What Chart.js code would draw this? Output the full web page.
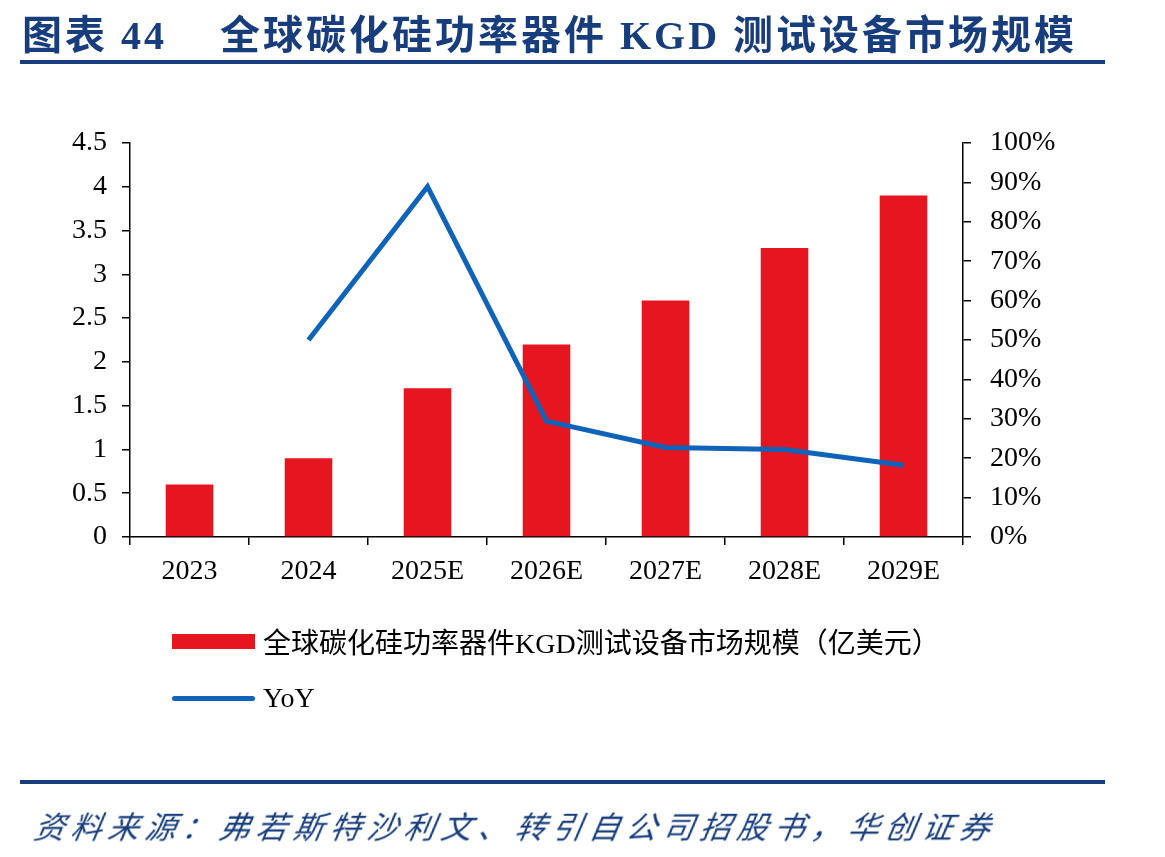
<!DOCTYPE html>
<html>
<head>
<meta charset="utf-8">
<script src="https://cdn.jsdelivr.net/npm/chart.js@4"></script>
<style>
    body { margin: 0; background: #fff; }
    #page { position: relative; width: 1165px; height: 857px; overflow: hidden; }
    #chart { position: absolute; left: 0; top: 0; }
    .title { position: absolute; top: 3px; font-family: "Liberation Serif", "Noto Sans CJK SC", serif; font-weight: bold;
        font-size: 40px; color: #173d7c; white-space: nowrap; letter-spacing: 3px; }
    .rule { position: absolute; left: 20px; width: 1085px; height: 4px; background: #173d7c; }
    .source { position: absolute; left: 35px; top: 802px; font-family: "Noto Sans CJK SC", sans-serif;
        font-size: 31px; color: #173d7c; font-style: italic; transform: skewX(-10deg); letter-spacing: 6px; white-space: nowrap; }
    .legend-item { position: absolute; left: 172px; height: 40px; display: flex; align-items: center; }
    .legend-text { position: absolute; left: 91px; white-space: nowrap; font-size: 28px; color: #000;
        font-family: "Liberation Serif", "Noto Sans CJK SC", serif; }
</style>
</head>
<body>
<div id="page">
    <canvas id="chart" width="1165" height="857"></canvas>
    <div class="title" style="left:22px">图表 44</div>
    <div class="title" style="left:220px">全球碳化硅功率器件 KGD 测试设备市场规模</div>
    <div class="rule" style="top:60px"></div>
    <div id="legend"></div>
    <div class="rule" style="top:780px"></div>
    <div class="source">资料来源：弗若斯特沙利文、转引自公司招股书，华创证券</div>
</div>
<script>
const categories = ["2023", "2024", "2025E", "2026E", "2027E", "2028E", "2029E"];
const marketSize = [0.6, 0.9, 1.7, 2.2, 2.7, 3.3, 3.9];
const yoy = [null, 50, 88.9, 29.4, 22.7, 22.2, 18.2];
const seriesNames = ["全球碳化硅功率器件KGD测试设备市场规模（亿美元）", "YoY"];

const barColor = "#e5161f";
const lineColor = "#0f63b8";
const tickFont = { family: "Liberation Serif", size: 28 };

function fixWidth(w) {
    return function (scale) {
        scale.width = w;
        scale.paddingTop = 0;
        scale.paddingBottom = 0;
    };
}

new Chart(document.getElementById("chart").getContext("2d"), {
    data: {
        labels: categories,
        datasets: [
            {
                type: "line",
                label: seriesNames[1],
                data: yoy,
                yAxisID: "y1",
                borderColor: lineColor,
                borderWidth: 5,
                pointRadius: 0,
                tension: 0,
                order: 1,
            },
            {
                type: "bar",
                label: seriesNames[0],
                data: marketSize,
                yAxisID: "y",
                backgroundColor: barColor,
                barPercentage: 0.8,
                categoryPercentage: 0.5,
                order: 2,
            },
        ],
    },
    options: {
        responsive: false,
        animation: false,
        devicePixelRatio: 1,
        layout: { padding: { top: 143, left: 0, right: 0, bottom: 0 } },
        plugins: { legend: { display: false }, tooltip: { enabled: false } },
        scales: {
            x: {
                afterFit: function (scale) {
                    scale.height = 320;
                    scale.paddingLeft = 0;
                    scale.paddingRight = 0;
                },
                border: { display: true, color: "#000", width: 1.5 },
                grid: { drawOnChartArea: false, drawTicks: true, tickLength: 8, color: "#000", lineWidth: 1.5 },
                ticks: { color: "#000", font: tickFont, padding: 10, maxRotation: 0 },
            },
            y: {
                position: "left",
                min: 0,
                max: 4.5,
                afterFit: fixWidth(130),
                border: { display: true, color: "#000", width: 1.5 },
                grid: { drawOnChartArea: false, drawTicks: true, tickLength: 8, color: "#000", lineWidth: 1.5 },
                ticks: { stepSize: 0.5, color: "#000", font: tickFont, padding: 15, callback: (v) => String(v) },
            },
            y1: {
                position: "right",
                min: 0,
                max: 100,
                afterFit: fixWidth(202),
                border: { display: true, color: "#000", width: 1.5 },
                grid: { drawOnChartArea: false, drawTicks: true, tickLength: 8, color: "#000", lineWidth: 1.5 },
                ticks: {
                    stepSize: 10,
                    color: "#000",
                    font: tickFont,
                    padding: 19,
                    callback: (v) => v + "%",
                },
            },
        },
    },
});

// legend, built from the series names
const legend = document.getElementById("legend");
const legendRows = [
    { top: 621, name: seriesNames[0], mark: "background:" + barColor + ";width:83px;height:15px;" },
    { top: 678, name: seriesNames[1], mark: "background:" + lineColor + ";width:83px;height:5px;border-radius:3px;" },
];
legendRows.forEach(function (row) {
    const item = document.createElement("div");
    item.className = "legend-item";
    item.style.top = row.top + "px";
    const mark = document.createElement("div");
    mark.style.cssText = row.mark;
    const text = document.createElement("div");
    text.className = "legend-text";
    text.innerText = row.name;
    item.appendChild(mark);
    item.appendChild(text);
    legend.appendChild(item);
});
</script>
</body>
</html>
